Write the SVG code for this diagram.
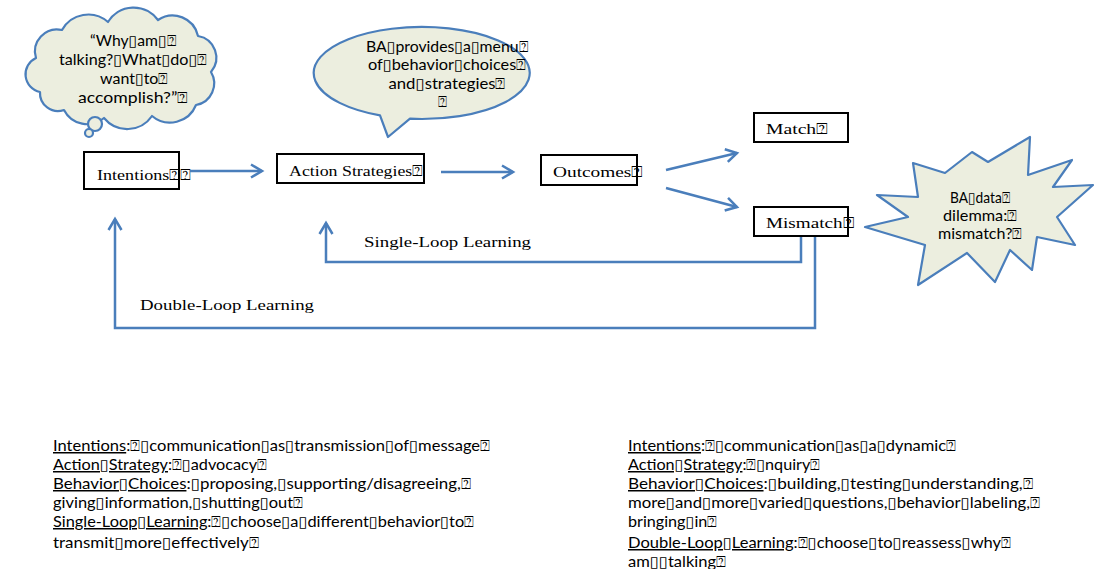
<svg xmlns="http://www.w3.org/2000/svg" width="1095" height="569" viewBox="0 0 1095 569">
  <style>
    .bg { fill: #ffffff; }
    .callout { fill: #eceedf; stroke: #4a7ebb; stroke-width: 2.2; stroke-linejoin: round; }
    .box { fill: #ffffff; stroke: #000000; stroke-width: 2; }
    .serif { font-family: "Liberation Serif", "DejaVu Sans", serif; font-size: 15px; fill: #000000; }
    .sans { font-family: "Lato", "DejaVu Sans", sans-serif; font-size: 15px; fill: #000000; }
    .mid { text-anchor: middle; }
    .u { text-decoration: underline; }
    .flow { fill: none; stroke: #4a7ebb; stroke-width: 2.5; stroke-linejoin: miter; }
  </style>
  <defs>
    <marker id="chev" markerUnits="userSpaceOnUse" markerWidth="16" markerHeight="16" refX="12" refY="8" orient="auto" overflow="visible">
      <path d="M1,1.5 L12,8 L1,14.5" fill="none" stroke="#4a7ebb" stroke-width="2.5" stroke-linejoin="miter"/>
    </marker>
  </defs>

  <rect class="bg" x="0" y="0" width="1095" height="569"/>

  <!-- thought cloud -->
  <g id="thought-cloud">
    <path class="callout" d="M40,92 A18,18 0 0 1 36,58 A22,22 0 0 1 62,30 A30,30 0 0 1 108,22 A30,30 0 0 1 158,20 A26,26 0 0 1 198,36 A22,22 0 0 1 211,72 A22,22 0 0 1 196,105 A28,28 0 0 1 152,116 A30,30 0 0 1 104,118 A26,26 0 0 1 64,110 A18,18 0 0 1 40,92 Z"/>
    <circle class="callout" cx="95" cy="124" r="7"/>
    <circle class="callout" cx="89" cy="133" r="4"/>
    <text class="sans mid" x="133" y="46" textLength="86" lengthAdjust="spacingAndGlyphs">“Why▯am▯⍰</text>
    <text class="sans mid" x="133" y="65" textLength="148" lengthAdjust="spacingAndGlyphs">talking?▯What▯do▯⍰</text>
    <text class="sans mid" x="134" y="84" textLength="68" lengthAdjust="spacingAndGlyphs">want▯to⍰</text>
    <text class="sans mid" x="133" y="103" textLength="110" lengthAdjust="spacingAndGlyphs">accomplish?”⍰</text>
  </g>

  <!-- speech bubble -->
  <g id="speech-bubble">
    <path class="callout" d="M380,115.4 A108,46 0 1 1 410,118.7 L388,137 Z"/>
    <text class="sans mid" x="447" y="52" textLength="162" lengthAdjust="spacingAndGlyphs">BA▯provides▯a▯menu⍰</text>
    <text class="sans mid" x="447" y="70" textLength="158" lengthAdjust="spacingAndGlyphs">of▯behavior▯choices⍰</text>
    <text class="sans mid" x="447" y="89" textLength="117" lengthAdjust="spacingAndGlyphs">and▯strategies⍰</text>
    <text class="sans mid" x="442" y="107">⍰</text>
  </g>

  <!-- starburst -->
  <g id="starburst">
    <polygon class="callout" points="865,227 908,217 877,195 918,197 913,163 945,173 972,152 988,162 1030,137 1028,175 1072,160 1053,187 1093,185 1057,217 1075,245 1037,237 1032,270 1010,250 995,282 967,253 918,285 925,245"/>
    <text class="sans mid" x="980" y="203" textLength="60" lengthAdjust="spacingAndGlyphs">BA▯data⍰</text>
    <text class="sans mid" x="980" y="221" textLength="74" lengthAdjust="spacingAndGlyphs">dilemma:⍰</text>
    <text class="sans mid" x="980" y="239" textLength="84" lengthAdjust="spacingAndGlyphs">mismatch?⍰</text>
  </g>

  <!-- process boxes -->
  <g id="intentions">
    <rect class="box" x="84" y="152" width="95" height="37"/>
    <text class="serif" x="97" y="180" textLength="94" lengthAdjust="spacingAndGlyphs">Intentions⍰⍰</text>
  </g>
  <g id="action-strategies">
    <rect class="box" x="277" y="154" width="147" height="29"/>
    <text class="serif" x="289" y="176" textLength="134" lengthAdjust="spacingAndGlyphs">Action Strategies⍰</text>
  </g>
  <g id="outcomes">
    <rect class="box" x="541" y="155" width="96" height="30"/>
    <text class="serif" x="553" y="177" textLength="90" lengthAdjust="spacingAndGlyphs">Outcomes⍰</text>
  </g>
  <g id="match">
    <rect class="box" x="754" y="113" width="94" height="29"/>
    <text class="serif" x="766" y="134" textLength="62" lengthAdjust="spacingAndGlyphs">Match⍰</text>
  </g>
  <g id="mismatch">
    <rect class="box" x="754" y="207" width="94" height="29"/>
    <text class="serif" x="766" y="228" textLength="88" lengthAdjust="spacingAndGlyphs">Mismatch⍰</text>
  </g>

  <!-- connectors -->
  <g id="connectors">
    <line class="flow" x1="190" y1="171" x2="262" y2="171" marker-end="url(#chev)"/>
    <line class="flow" x1="441" y1="172" x2="513" y2="172" marker-end="url(#chev)"/>
    <line class="flow" x1="666" y1="170" x2="737" y2="153" marker-end="url(#chev)"/>
    <line class="flow" x1="666" y1="188" x2="737" y2="207" marker-end="url(#chev)"/>
    <polyline class="flow" points="801,237 801,262 326,262 326,223" marker-end="url(#chev)"/>
    <polyline class="flow" points="815,237 815,328 115,328 115,219" marker-end="url(#chev)"/>
    <text class="serif" x="364" y="247" textLength="167" lengthAdjust="spacingAndGlyphs">Single-Loop Learning</text>
    <text class="serif" x="140" y="310" textLength="174" lengthAdjust="spacingAndGlyphs">Double-Loop Learning</text>
  </g>

  <!-- notes: single-loop column -->
  <g id="notes-single">
    <text class="sans" x="53" y="451" textLength="437" lengthAdjust="spacingAndGlyphs"><tspan class="u">Intentions</tspan>:⍰▯communication▯as▯transmission▯of▯message⍰</text>
    <text class="sans" x="53" y="470" textLength="214" lengthAdjust="spacingAndGlyphs"><tspan class="u">Action▯Strategy</tspan>:⍰▯advocacy⍰</text>
    <text class="sans" x="53" y="489" textLength="418" lengthAdjust="spacingAndGlyphs"><tspan class="u">Behavior▯Choices</tspan>:▯proposing,▯supporting/disagreeing,⍰</text>
    <text class="sans" x="53" y="508" textLength="250" lengthAdjust="spacingAndGlyphs">giving▯information,▯shutting▯out⍰</text>
    <text class="sans" x="53" y="527" textLength="421" lengthAdjust="spacingAndGlyphs"><tspan class="u">Single-Loop▯Learning</tspan>:⍰▯choose▯a▯different▯behavior▯to⍰</text>
    <text class="sans" x="53" y="548" textLength="206" lengthAdjust="spacingAndGlyphs">transmit▯more▯effectively⍰</text>
  </g>

  <!-- notes: double-loop column -->
  <g id="notes-double">
    <text class="sans" x="628" y="451" textLength="328" lengthAdjust="spacingAndGlyphs"><tspan class="u">Intentions</tspan>:⍰▯communication▯as▯a▯dynamic⍰</text>
    <text class="sans" x="628" y="470" textLength="192" lengthAdjust="spacingAndGlyphs"><tspan class="u">Action▯Strategy</tspan>:⍰▯nquiry⍰</text>
    <text class="sans" x="628" y="489" textLength="405" lengthAdjust="spacingAndGlyphs"><tspan class="u">Behavior▯Choices</tspan>:▯building,▯testing▯understanding,⍰</text>
    <text class="sans" x="628" y="508" textLength="412" lengthAdjust="spacingAndGlyphs">more▯and▯more▯varied▯questions,▯behavior▯labeling,⍰</text>
    <text class="sans" x="628" y="527" textLength="89" lengthAdjust="spacingAndGlyphs">bringing▯in⍰</text>
    <text class="sans" x="628" y="548" textLength="383" lengthAdjust="spacingAndGlyphs"><tspan class="u">Double-Loop▯Learning</tspan>:⍰▯choose▯to▯reassess▯why⍰</text>
    <text class="sans" x="628" y="567" textLength="98" lengthAdjust="spacingAndGlyphs">am▯▯talking⍰</text>
  </g>
</svg>
